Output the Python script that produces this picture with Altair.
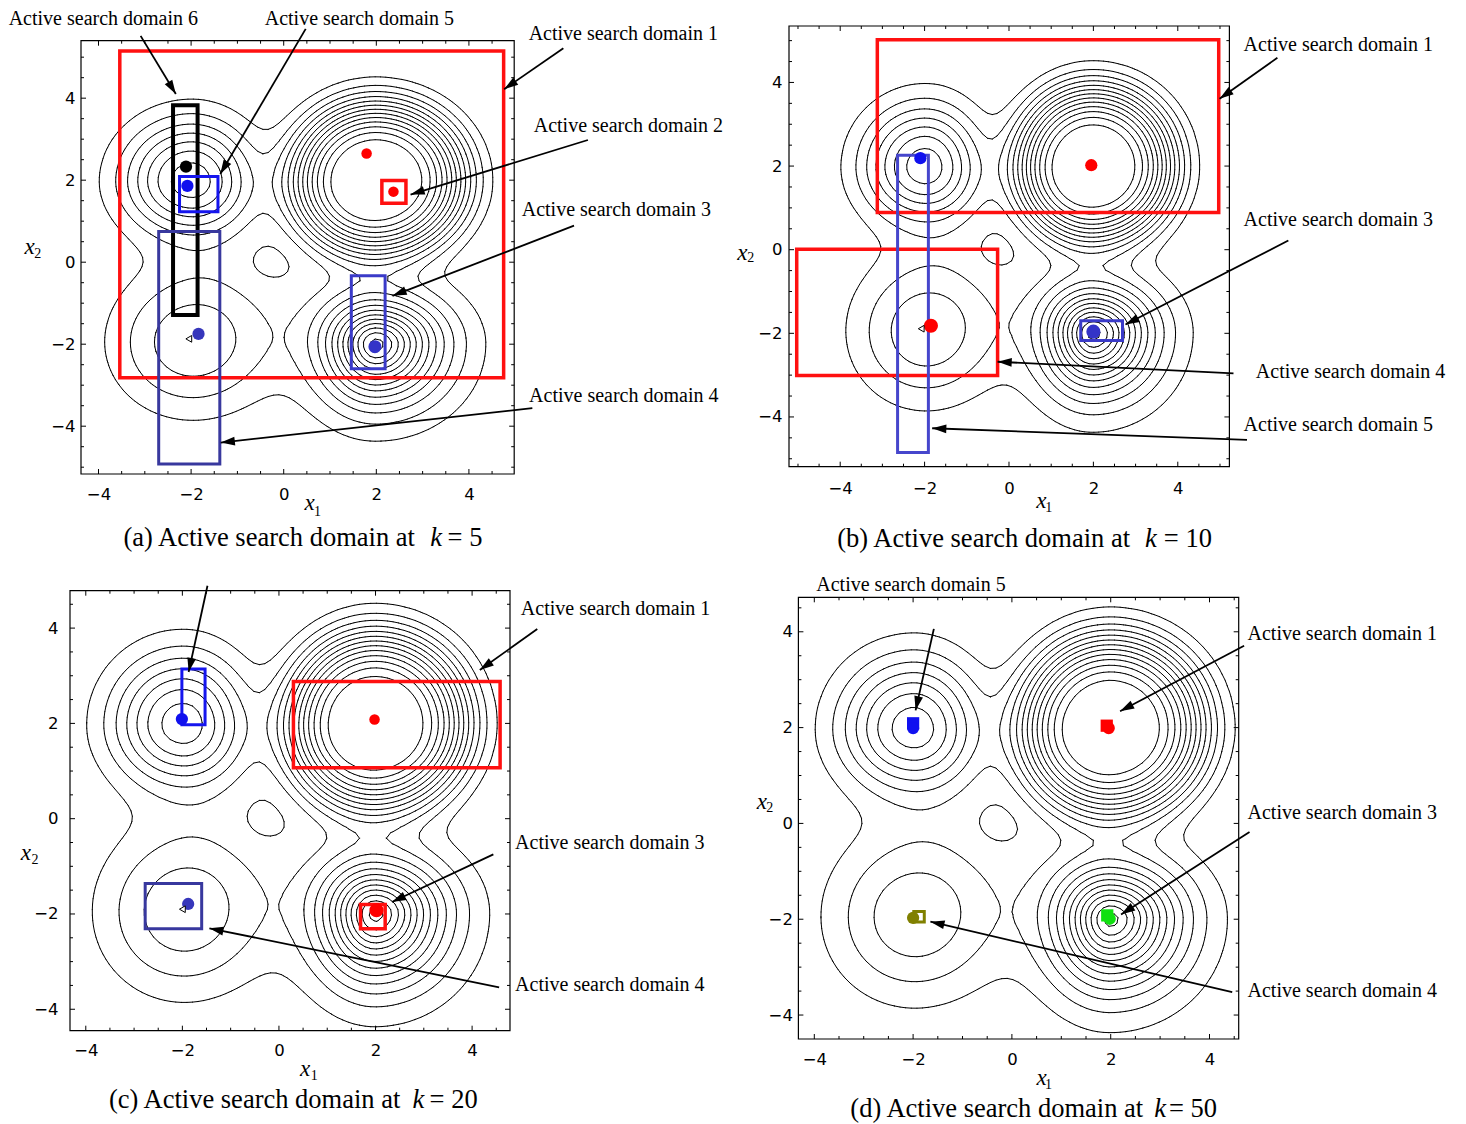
import math
import numpy as np
import pandas as pd
import altair as alt

# ---------------- contour surface (same function in all four panels) ----------------
# four hills, a broad low pedestal and a shallow dip near the middle
peak_x = [2.0, 2.0, -2.0, -2.0, -0.4, -0.4]
peak_y = [2.0, -2.0, 2.0, -2.0, 0.0, -0.1]
peak_h = [1.0, 0.93, 0.51, 0.24, 0.055, -0.023]
peak_sx_out = [1.9, 1.3, 1.42, 1.65, 2.6, 0.6]
peak_sx_in = [1.8, 1.05, 1.25, 1.65, 2.6, 0.6]
peak_sy_out = [1.9, 1.3, 1.42, 1.65, 2.6, 0.6]
peak_sy_in = [1.8, 1.05, 1.25, 1.65, 2.6, 0.6]
peak_p = [3.5, 1.6, 2.16, 2.2, 2.0, 2.0]
contour_levels = [0.07, 0.14, 0.21, 0.28, 0.35, 0.42, 0.49, 0.56, 0.63, 0.70, 0.77, 0.84, 0.91]

label_ticks = [-4, -2, 0, 2, 4]
all_ticks = [-6.0, -5.5, -5.0, -4.5, -4.0, -3.5, -3.0, -2.5, -2.0, -1.5, -1.0, -0.5, 0.0,
             0.5, 1.0, 1.5, 2.0, 2.5, 3.0, 3.5, 4.0, 4.5, 5.0, 5.5, 6.0]

# ---------------- panel (a): k = 5 ----------------
a_rect_x1 = [-3.54, -2.39, -2.25, -2.70, 1.46, 2.12]
a_rect_x2 = [4.75, -1.86, -1.42, -1.38, 2.19, 2.64]
a_rect_y1 = [-2.82, -1.29, 1.23, -4.92, -2.60, 1.44]
a_rect_y2 = [5.15, 3.83, 2.09, 0.75, -0.33, 1.99]
a_rect_kind = ["red", "black", "blue", "slate", "mid", "red"]
a_dot_x = [-2.11, -2.08, 1.79, 2.37, -1.84, 1.97]
a_dot_y = [2.33, 1.86, 2.65, 1.72, -1.75, -2.06]
a_dot_kind = ["black", "blue", "red_s", "red_s", "slate", "mid"]
a_tri_x = [-2.05]
a_tri_y = [-1.87]
a_arrow_sx = [-3.09, 0.475, 6.04, 6.57, 6.27, 5.37]
a_arrow_sy = [5.52, 5.69, 5.22, 2.98, 0.89, -3.56]
a_arrow_tx = [-2.33, -1.37, 4.76, 2.74, 2.35, -1.36]
a_arrow_ty = [4.10, 2.15, 4.22, 1.65, -0.82, -4.40]
a_note_text = ["Active search domain 6", "Active search domain 5", "Active search domain 1",
               "Active search domain 2", "Active search domain 3", "Active search domain 4"]
a_note_x = [-5.94, -0.41, 5.29, 5.40, 5.14, 5.30]
a_note_y = [5.94, 5.94, 5.57, 3.31, 1.27, -3.27]
a_caption = ["(a) Active search domain at", "k", "= 5"]
a_caption_x = [-3.46, 3.29, 3.54]
a_caption_y = -6.72
a_title_x = [0.56, 0.73, -5.49, -5.31]
a_title_y = [-5.87, -6.09, 0.38, 0.21]

# ---------------- panel (b): k = 10 ----------------
b_rect_x1 = [-3.12, -5.03, -2.64, 1.70]
b_rect_x2 = [4.97, -0.27, -1.91, 2.69]
b_rect_y1 = [0.89, -3.01, -4.85, -2.17]
b_rect_y2 = [5.02, 0.01, 2.26, -1.70]
b_rect_kind = ["red", "red", "mid2", "mid"]
b_dot_x = [-2.10, 1.95, -1.85, 2.00]
b_dot_y = [2.19, 2.02, -1.82, -1.96]
b_dot_kind = ["blue", "red", "red_l", "mid_l"]
b_tri_x = [-2.08]
b_tri_y = [-1.89]
b_arrow_sx = [6.36, 6.62, 5.32, 5.64]
b_arrow_sy = [4.59, 0.22, -2.96, -4.55]
b_arrow_tx = [4.99, 2.76, -0.27, -1.82]
b_arrow_ty = [3.61, -1.79, -2.68, -4.27]
b_note_text = ["Active search domain 1", "Active search domain 3",
               "Active search domain 4", "Active search domain 5"]
b_note_x = [5.56, 5.56, 5.85, 5.56]
b_note_y = [4.90, 0.71, -2.93, -4.19]
b_caption = ["(b) Active search domain at", "k", "= 10"]
b_caption_x = [-4.07, 3.36, 3.67]
b_caption_y = -6.93
b_title_x = [0.77, 0.94, -6.32, -6.12]
b_title_y = [-6.00, -6.17, -0.09, -0.21]

# ---------------- panel (c): k = 20 ----------------
c_rect_x1 = [-2.01, 0.30, -2.77, 1.69]
c_rect_x2 = [-1.53, 4.58, -1.60, 2.20]
c_rect_y1 = [1.97, 1.07, -2.31, -2.31]
c_rect_y2 = [3.14, 2.88, -1.36, -1.80]
c_rect_kind = ["blue", "red", "slate", "red"]
c_dot_x = [-2.01, 1.98, -1.88, 2.02]
c_dot_y = [2.09, 2.08, -1.79, -1.92]
c_dot_kind = ["blue", "red_s", "slate", "red_l"]
c_tri_x = [-2.00]
c_tri_y = [-1.90]
c_arrow_sx = [-1.48, 5.35, 4.44, 4.56]
c_arrow_sy = [4.89, 3.98, -0.75, -3.54]
c_arrow_tx = [-1.87, 4.16, 2.34, -1.44]
c_arrow_ty = [3.08, 3.12, -1.75, -2.30]
c_note_text = ["Active search domain 1", "Active search domain 3", "Active search domain 4"]
c_note_x = [5.01, 4.89, 4.89]
c_note_y = [4.40, -0.52, -3.50]
c_caption = ["(c) Active search domain at", "k", "= 20"]
c_caption_x = [-3.52, 2.89, 3.12]
c_caption_y = -5.90
c_title_x = [0.54, 0.73, -5.24, -5.05]
c_title_y = [-5.25, -5.40, -0.71, -0.86]

# ---------------- panel (d): k = 50 ----------------
d_sq_x = [-2.00, 1.92, 1.93, -1.88]
d_sq_y = [2.09, 2.04, -1.92, -1.95]
d_dot_x = [-2.00, 1.96, 1.98, -2.00]
d_dot_y = [1.99, 1.99, -1.99, -1.97]
d_kind = ["d_blue", "d_red", "d_green", "d_olive"]
d_arrow_sx = [-1.58, 4.70, 4.81, 4.46]
d_arrow_sy = [4.06, 3.71, -0.18, -3.52]
d_arrow_tx = [-1.95, 2.19, 2.21, -1.65]
d_arrow_ty = [2.36, 2.34, -1.90, -2.05]
d_note_text = ["Active search domain 5", "Active search domain 1",
               "Active search domain 3", "Active search domain 4"]
d_note_x = [-3.96, 4.77, 4.77, 4.77]
d_note_y = [4.97, 3.96, 0.22, -3.50]
d_caption = ["(d) Active search domain at", "k", "= 50"]
d_caption_x = [-3.27, 3.00, 3.18]
d_caption_y = -5.96
d_title_x = [0.60, 0.74, -5.06, -4.90]
d_title_y = [-5.31, -5.46, 0.44, 0.32]

# ---------------- styles ----------------
RECT_STYLE = {"red": ("#ff1010", 3.5), "black": ("#000000", 4.0), "blue": ("#1515ee", 3.0),
              "slate": ("#38389e", 3.0), "mid": ("#3a3ac8", 3.0), "mid2": ("#4646cc", 3.0)}
DOT_STYLE = {"black": ("#000000", 150), "blue": ("#1010ee", 150), "red_s": ("#ff0000", 110),
             "red": ("#ff0000", 150), "red_l": ("#ff0000", 200), "slate": ("#3636bb", 150),
             "mid": ("#3434c8", 170), "mid_l": ("#3434c8", 200),
             "d_blue": ("#1010f0", 150), "d_red": ("#ff0000", 150),
             "d_green": ("#10e010", 150), "d_olive": ("#808000", 150)}
SERIF = "Liberation Serif"
ARROW = "M0,0L-0.62,2L0.62,2Z"


def surface(X, Y):
    Z = np.zeros_like(X)
    for cx, cy, h, sxo, sxi, syo, syi, p in zip(peak_x, peak_y, peak_h, peak_sx_out,
                                                 peak_sx_in, peak_sy_out, peak_sy_in, peak_p):
        dx = X - cx
        dy = Y - cy
        sx = np.where(dx * np.sign(cx) >= 0, sxo, sxi)
        sy = np.where(dy * np.sign(cy) >= 0, syo, syi)
        r = np.sqrt((dx / sx) ** 2 + (dy / sy) ** 2)
        Z += h * np.exp(-(r ** p))
    return Z


def march(gx, gy, Z, lev):
    z00 = Z[:-1, :-1]; z10 = Z[:-1, 1:]; z11 = Z[1:, 1:]; z01 = Z[1:, :-1]
    case = (z00 > lev) * 1 + (z10 > lev) * 2 + (z11 > lev) * 4 + (z01 > lev) * 8
    X0 = np.broadcast_to(gx[:-1][None, :], z00.shape)
    X1 = np.broadcast_to(gx[1:][None, :], z00.shape)
    Y0 = np.broadcast_to(gy[:-1][:, None], z00.shape)
    Y1 = np.broadcast_to(gy[1:][:, None], z00.shape)

    def t(a, b):
        d = b - a
        d = np.where(d == 0, 1e-12, d)
        return np.clip((lev - a) / d, 0, 1)

    ex = [X0 + t(z00, z10) * (X1 - X0), X1, X0 + t(z01, z11) * (X1 - X0), X0]
    ey = [Y0, Y0 + t(z10, z11) * (Y1 - Y0), Y1, Y0 + t(z00, z01) * (Y1 - Y0)]
    table = {1: [(0, 3)], 2: [(0, 1)], 3: [(3, 1)], 4: [(1, 2)], 5: [(0, 1), (2, 3)],
             6: [(0, 2)], 7: [(3, 2)], 8: [(3, 2)], 9: [(0, 2)], 10: [(0, 3), (1, 2)],
             11: [(1, 2)], 12: [(3, 1)], 13: [(0, 1)], 14: [(0, 3)]}
    out = []
    for c, pairs in table.items():
        m = case == c
        if not m.any():
            continue
        for a, b in pairs:
            out.append(np.column_stack([ex[a][m], ey[a][m], ex[b][m], ey[b][m]]))
    return np.vstack(out) if out else np.zeros((0, 4))


def contour_df(xdom, ydom):
    gx = np.linspace(xdom[0], xdom[1], int(round((xdom[1] - xdom[0]) / 0.115)) + 1)
    gy = np.linspace(ydom[0], ydom[1], int(round((ydom[1] - ydom[0]) / 0.115)) + 1)
    GX, GY = np.meshgrid(gx, gy)
    Z = surface(GX, GY)
    segs = np.vstack([march(gx, gy, Z, lv) for lv in contour_levels])
    return pd.DataFrame(np.round(segs, 3), columns=["x", "y", "x2", "y2"])


def build_panel(xdom, ydom, W, H, offx, offy, xpad, ypad, rects=None, dots=None, tris=None,
                squares=None, arrows=None, notes=None, caption=None, titles=None):
    x0, x1 = xdom
    y0, y1 = ydom
    xsc = alt.Scale(domain=[x0, x1], range=[offx, offx + W], nice=False, zero=False)
    ysc = alt.Scale(domain=[y0, y1], range=[offy + H, offy], nice=False, zero=False)
    common = dict(ticks=False, tickSize=0, domain=False, grid=False, title=None,
                  labelFont="DejaVu Sans", labelFontSize=16.5, labelColor="black")
    xax = alt.Axis(values=[v for v in label_ticks if x0 <= v <= x1], labelPadding=xpad, **common)
    yax = alt.Axis(values=[v for v in label_ticks if y0 <= v <= y1],
                   labelPadding=ypad - offx, **common)

    def X(f):
        return alt.X(f, type="quantitative", scale=xsc, axis=xax)

    def Y(f):
        return alt.Y(f, type="quantitative", scale=ysc, axis=yax)

    layers = [alt.Chart(contour_df(xdom, ydom))
              .mark_rule(color="black", strokeWidth=1.0, strokeCap="round")
              .encode(x=X("x"), y=Y("y"), x2="x2:Q", y2="y2:Q")]

    # frame
    fr = pd.DataFrame({"xa": [x0], "xb": [x1], "ya": [y0], "yb": [y1]})
    layers.append(alt.Chart(fr).mark_rect(fill="transparent", stroke="black", strokeWidth=1.2)
                  .encode(x=X("xa"), x2="xb:Q", y=Y("ya"), y2="yb:Q"))

    # frame ticks (inward), every 0.5, longer at labelled values
    xmaj = [v for v in label_ticks if x0 < v < x1]
    xmin = [v for v in all_ticks if x0 < v < x1 and v not in label_ticks]
    ymaj = [v for v in label_ticks if y0 < v < y1]
    ymin = [v for v in all_ticks if y0 < v < y1 and v not in label_ticks]
    for vals, ln in ((xmaj, 5), (xmin, 3)):
        d = pd.DataFrame({"v": vals})
        layers.append(alt.Chart(d).mark_rule(color="black", strokeWidth=1)
                      .encode(x=X("v"), y=alt.value(offy + H), y2=alt.value(offy + H - ln)))
        layers.append(alt.Chart(d).mark_rule(color="black", strokeWidth=1)
                      .encode(x=X("v"), y=alt.value(offy), y2=alt.value(offy + ln)))
    for vals, ln in ((ymaj, 5), (ymin, 3)):
        d = pd.DataFrame({"v": vals})
        layers.append(alt.Chart(d).mark_rule(color="black", strokeWidth=1)
                      .encode(y=Y("v"), x=alt.value(offx), x2=alt.value(offx + ln)))
        layers.append(alt.Chart(d).mark_rule(color="black", strokeWidth=1)
                      .encode(y=Y("v"), x=alt.value(offx + W), x2=alt.value(offx + W - ln)))

    if rects:
        rx1, rx2, ry1, ry2, kinds = rects
        d = pd.DataFrame({"xa": rx1, "xb": rx2, "ya": ry1, "yb": ry2,
                          "c": [RECT_STYLE[k][0] for k in kinds],
                          "w": [RECT_STYLE[k][1] for k in kinds]})
        layers.append(alt.Chart(d).mark_rect(fill="transparent")
                      .encode(x=X("xa"), x2="xb:Q", y=Y("ya"), y2="yb:Q",
                              stroke=alt.Stroke("c:N", scale=None),
                              strokeWidth=alt.StrokeWidth("w:Q", scale=None)))
    if squares:
        sx, sy, kinds = squares
        d = pd.DataFrame({"x": sx, "y": sy, "c": [DOT_STYLE[k][0] for k in kinds], "k": kinds})
        layers.append(alt.Chart(d[d.k != "d_olive"]).mark_square(opacity=1, size=150)
                      .encode(x=X("x"), y=Y("y"), color=alt.Color("c:N", scale=None)))
        layers.append(alt.Chart(d[d.k == "d_olive"]).mark_square(filled=False, strokeWidth=3,
                                                                 size=110, opacity=1)
                      .encode(x=X("x"), y=Y("y"), color=alt.Color("c:N", scale=None)))
    if dots:
        dx, dy, kinds = dots
        d = pd.DataFrame({"x": dx, "y": dy, "c": [DOT_STYLE[k][0] for k in kinds],
                          "s": [DOT_STYLE[k][1] for k in kinds]})
        layers.append(alt.Chart(d).mark_circle(opacity=1)
                      .encode(x=X("x"), y=Y("y"), color=alt.Color("c:N", scale=None),
                              size=alt.Size("s:Q", scale=None)))
    if tris:
        d = pd.DataFrame({"x": tris[0], "y": tris[1]})
        layers.append(alt.Chart(d).mark_point(shape="triangle-left", filled=True, fill="white",
                                              stroke="black", strokeWidth=1, size=45, opacity=1)
                      .encode(x=X("x"), y=Y("y")))
    if arrows:
        asx, asy, atx, aty = arrows
        kx = W / (x1 - x0)
        ky = H / (y1 - y0)
        ang = []
        for a, b, c, e in zip(asx, asy, atx, aty):
            dxp = (c - a) * kx
            dyp = -(e - b) * ky
            ang.append((math.degrees(math.atan2(dxp, -dyp)) + 360) % 360)
        d = pd.DataFrame({"sx": asx, "sy": asy, "tx": atx, "ty": aty, "ang": ang})
        layers.append(alt.Chart(d).mark_rule(color="black", strokeWidth=1.8)
                      .encode(x=X("sx"), y=Y("sy"), x2="tx:Q", y2="ty:Q"))
        layers.append(alt.Chart(d).mark_point(shape=ARROW, filled=True, color="black",
                                              size=200, opacity=1, strokeWidth=0)
                      .encode(x=X("tx"), y=Y("ty"), angle=alt.Angle("ang:Q", scale=None)))
    if notes:
        d = pd.DataFrame({"t": notes[0], "x": notes[1], "y": notes[2]})
        layers.append(alt.Chart(d).mark_text(align="left", baseline="middle", font=SERIF,
                                             fontSize=20, color="black")
                      .encode(x=X("x"), y=Y("y"), text="t:N"))
    if caption:
        texts, xs, yv = caption
        layers.append(alt.Chart(pd.DataFrame({"t": [texts[0]], "x": [xs[0]], "y": [yv]}))
                      .mark_text(align="left", baseline="middle", font=SERIF, fontSize=26.5,
                                 color="black")
                      .encode(x=X("x"), y=Y("y"), text="t:N"))
        layers.append(alt.Chart(pd.DataFrame({"t": [texts[1]], "x": [xs[1]], "y": [yv]}))
                      .mark_text(align="center", baseline="middle", font=SERIF, fontSize=26.5,
                                 fontStyle="italic", color="black")
                      .encode(x=X("x"), y=Y("y"), text="t:N"))
        layers.append(alt.Chart(pd.DataFrame({"t": [texts[2]], "x": [xs[2]], "y": [yv]}))
                      .mark_text(align="left", baseline="middle", font=SERIF, fontSize=26.5,
                                 color="black")
                      .encode(x=X("x"), y=Y("y"), text="t:N"))
    if titles:
        tx, ty = titles
        d1 = pd.DataFrame({"t": ["x", "x"], "x": [tx[0], tx[2]], "y": [ty[0], ty[2]]})
        d2 = pd.DataFrame({"t": ["1", "2"], "x": [tx[1], tx[3]], "y": [ty[1], ty[3]]})
        layers.append(alt.Chart(d1).mark_text(align="center", baseline="middle", font=SERIF,
                                              fontSize=23, fontStyle="italic", color="black")
                      .encode(x=X("x"), y=Y("y"), text="t:N"))
        layers.append(alt.Chart(d2).mark_text(align="center", baseline="middle", font=SERIF,
                                              fontSize=14, color="black")
                      .encode(x=X("x"), y=Y("y"), text="t:N"))
    return alt.layer(*layers).properties(width=offx + W, height=offy + H)


panel_a = build_panel([-4.378, 4.978], [-5.166, 5.402], 433.2, 433.3, 11.0, 14.7, 12, 6,
                      rects=(a_rect_x1, a_rect_x2, a_rect_y1, a_rect_y2, a_rect_kind),
                      dots=(a_dot_x, a_dot_y, a_dot_kind), tris=(a_tri_x, a_tri_y),
                      arrows=(a_arrow_sx, a_arrow_sy, a_arrow_tx, a_arrow_ty),
                      notes=(a_note_text, a_note_x, a_note_y),
                      caption=(a_caption, a_caption_x, a_caption_y),
                      titles=(a_title_x, a_title_y))
panel_b = build_panel([-5.213, 5.223], [-5.19, 5.35], 440.4, 440.7, 0.0, 0.0, 14, 7,
                      rects=(b_rect_x1, b_rect_x2, b_rect_y1, b_rect_y2, b_rect_kind),
                      dots=(b_dot_x, b_dot_y, b_dot_kind), tris=(b_tri_x, b_tri_y),
                      arrows=(b_arrow_sx, b_arrow_sy, b_arrow_tx, b_arrow_ty),
                      notes=(b_note_text, b_note_x, b_note_y),
                      caption=(b_caption, b_caption_x, b_caption_y),
                      titles=(b_title_x, b_title_y))
panel_c = build_panel([-4.327, 4.785], [-4.45, 4.785], 440.0, 440.0, 0.0, 0.0, 12, 12,
                      rects=(c_rect_x1, c_rect_x2, c_rect_y1, c_rect_y2, c_rect_kind),
                      dots=(c_dot_x, c_dot_y, c_dot_kind), tris=(c_tri_x, c_tri_y),
                      arrows=(c_arrow_sx, c_arrow_sy, c_arrow_tx, c_arrow_ty),
                      notes=(c_note_text, c_note_x, c_note_y),
                      caption=(c_caption, c_caption_x, c_caption_y),
                      titles=(c_title_x, c_title_y))
panel_d = build_panel([-4.322, 4.591], [-4.50, 4.72], 440.3, 441.7, 9.4, 6.6, 12, 6,
                      squares=(d_sq_x, d_sq_y, d_kind),
                      dots=(d_dot_x, d_dot_y, d_kind),
                      arrows=(d_arrow_sx, d_arrow_sy, d_arrow_tx, d_arrow_ty),
                      notes=(d_note_text, d_note_x, d_note_y),
                      caption=(d_caption, d_caption_x, d_caption_y),
                      titles=(d_title_x, d_title_y))

chart = (alt.concat(panel_a, panel_b, panel_c, panel_d, columns=2, bounds="flush", align="all",
                    spacing={"row": 115.7, "column": 269})
         .properties(padding=0)
         .configure_view(stroke="transparent"))

chart.save("out.html", embed_options={"renderer": "svg", "actions": False})
